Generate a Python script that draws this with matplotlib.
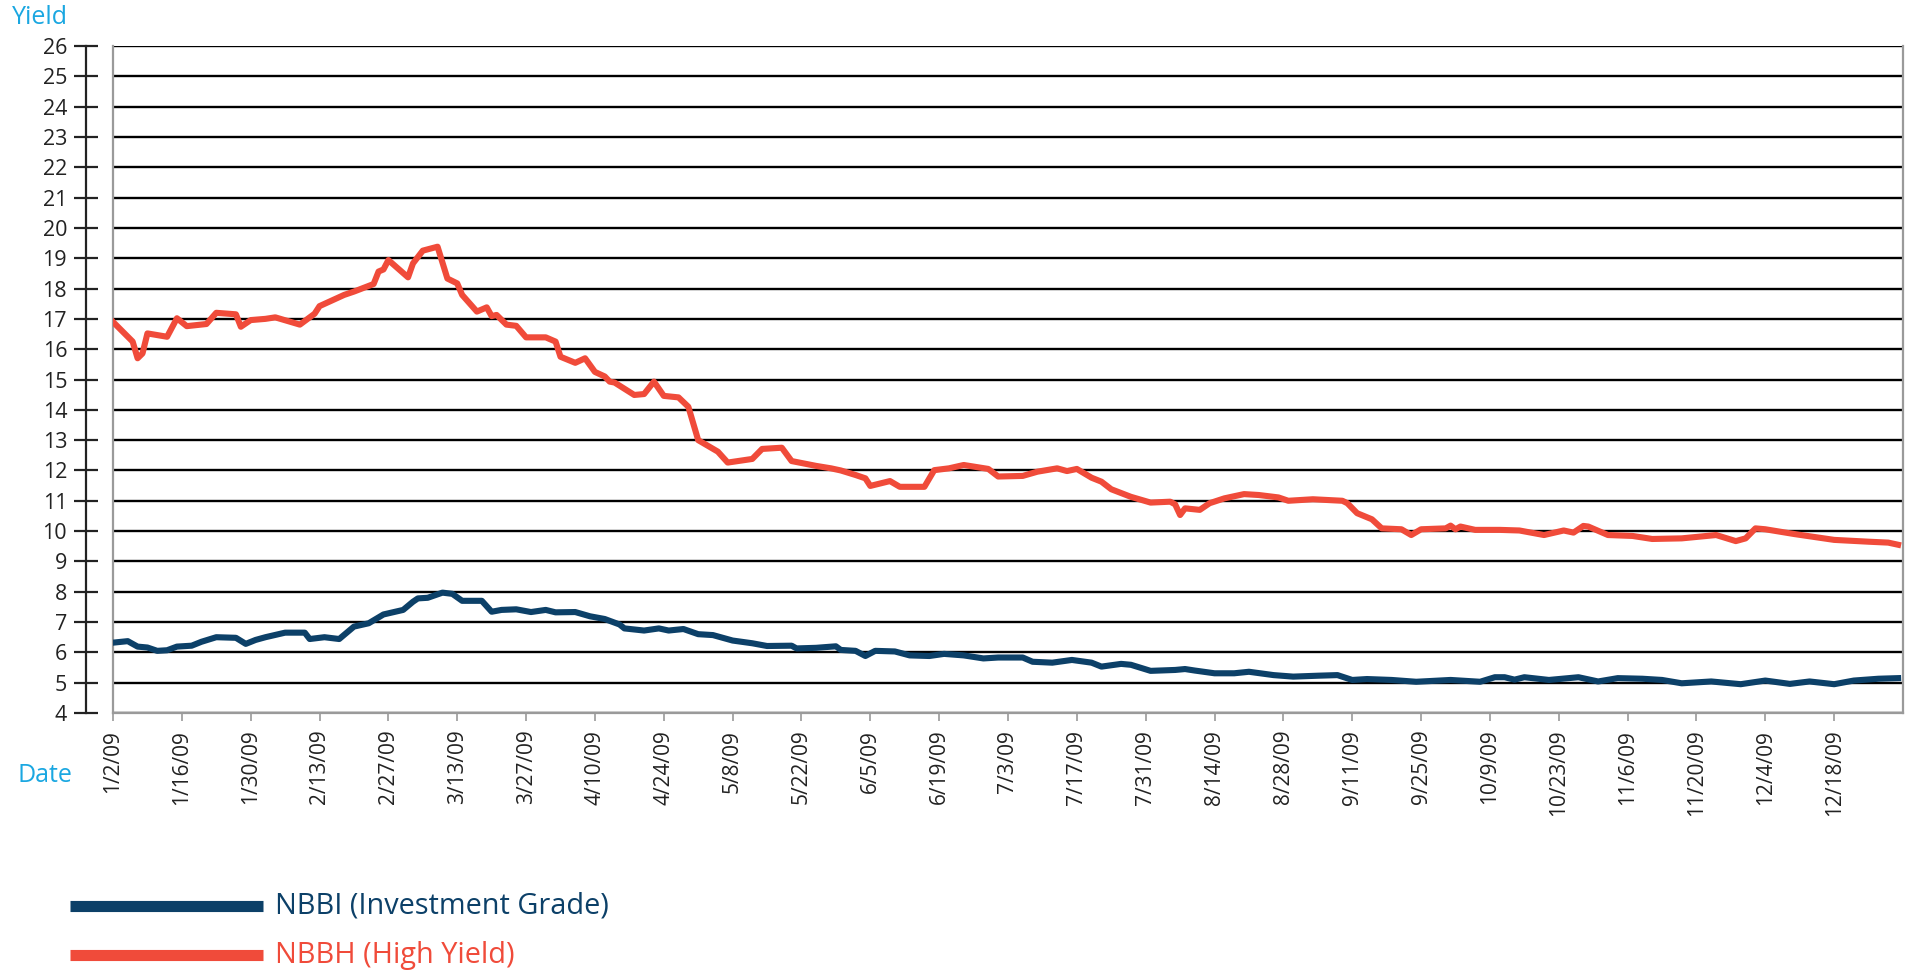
import pandas as pd
import matplotlib
matplotlib.use("Agg")
import matplotlib.pyplot as plt
import matplotlib.dates as mdates
from matplotlib.lines import Line2D
from matplotlib.ticker import FuncFormatter

plt.rcParams['font.family'] = ['Open Sans', 'DejaVu Sans']

# NBBH (High Yield)
high_yield_dates = [
    "01-02", "01-06", "01-07", "01-08", "01-09", "01-13", "01-15", "01-17", "01-21", "01-23",
    "01-27", "01-28", "01-30", "02-02", "02-04", "02-09", "02-12", "02-13", "02-18", "02-20",
    "02-24", "02-25", "02-26", "02-27", "03-03", "03-04", "03-06", "03-09", "03-11", "03-13",
    "03-14", "03-17", "03-19", "03-20", "03-21", "03-23", "03-25", "03-27", "03-31", "04-02",
    "04-03", "04-06", "04-08", "04-10", "04-12", "04-13", "04-14", "04-18", "04-20", "04-22",
    "04-24", "04-27", "04-29", "05-01", "05-05", "05-07", "05-12", "05-14", "05-18", "05-20",
    "05-25", "05-28", "05-30", "06-02", "06-04", "06-05", "06-09", "06-11", "06-16", "06-18",
    "06-21", "06-24", "06-29", "07-01", "07-06", "07-09", "07-13", "07-15", "07-17", "07-20",
    "07-22", "07-24", "07-28", "08-01", "08-05", "08-06", "08-07", "08-08", "08-11", "08-13",
    "08-16", "08-20", "08-23", "08-27", "08-29", "09-03", "09-09", "09-10", "09-12", "09-15",
    "09-17", "09-21", "09-23", "09-25", "09-30", "10-01", "10-02", "10-03", "10-06", "10-11",
    "10-15", "10-20", "10-24", "10-26", "10-28", "10-29", "11-02", "11-07", "11-11", "11-17",
    "11-24", "11-28", "11-30", "12-02", "12-04", "12-10", "12-18", "12-25", "12-29", "12-31",
]
high_yield_values = [
    16.90, 16.25, 15.70, 15.86, 16.52, 16.41, 17.02, 16.76, 16.83, 17.20,
    17.15, 16.74, 16.96, 17.00, 17.05, 16.81, 17.17, 17.42, 17.79, 17.90,
    18.15, 18.56, 18.63, 18.94, 18.37, 18.83, 19.25, 19.38, 18.33, 18.17,
    17.79, 17.24, 17.38, 17.09, 17.13, 16.81, 16.77, 16.39, 16.39, 16.25,
    15.75, 15.55, 15.70, 15.25, 15.10, 14.93, 14.90, 14.49, 14.52, 14.93,
    14.46, 14.41, 14.10, 13.00, 12.62, 12.26, 12.38, 12.71, 12.75, 12.31,
    12.15, 12.07, 12.00, 11.85, 11.74, 11.49, 11.65, 11.46, 11.46, 12.01,
    12.07, 12.18, 12.05, 11.80, 11.82, 11.96, 12.07, 11.98, 12.05, 11.76,
    11.63, 11.38, 11.13, 10.94, 10.97, 10.88, 10.53, 10.75, 10.70, 10.92,
    11.08, 11.22, 11.19, 11.11, 11.00, 11.05, 11.00, 10.92, 10.59, 10.39,
    10.09, 10.06, 9.87, 10.06, 10.09, 10.18, 10.06, 10.15, 10.04, 10.04,
    10.02, 9.87, 10.02, 9.95, 10.17, 10.15, 9.87, 9.84, 9.74, 9.76,
    9.87, 9.67, 9.76, 10.09, 10.06, 9.90, 9.71, 9.65, 9.62, 9.55,
]

# NBBI (Investment Grade)
inv_grade_dates = [
    "01-02", "01-05", "01-07", "01-09", "01-11", "01-13", "01-15", "01-18", "01-20", "01-23",
    "01-27", "01-29", "01-31", "02-02", "02-06", "02-10", "02-11", "02-14", "02-17", "02-20",
    "02-23", "02-26", "03-02", "03-04", "03-05", "03-07", "03-10", "03-12", "03-14", "03-18",
    "03-20", "03-22", "03-25", "03-28", "03-31", "04-02", "04-06", "04-09", "04-12", "04-15",
    "04-16", "04-20", "04-23", "04-25", "04-28", "05-01", "05-04", "05-08", "05-12", "05-15",
    "05-20", "05-21", "05-25", "05-29", "05-30", "06-02", "06-04", "06-06", "06-10", "06-13",
    "06-17", "06-20", "06-24", "06-28", "07-01", "07-06", "07-08", "07-12", "07-16", "07-20",
    "07-22", "07-26", "07-28", "08-01", "08-06", "08-08", "08-10", "08-14", "08-18", "08-21",
    "08-26", "08-30", "09-04", "09-08", "09-11", "09-14", "09-19", "09-24", "10-01", "10-07",
    "10-10", "10-12", "10-14", "10-16", "10-21", "10-27", "10-31", "11-04", "11-09", "11-13",
    "11-17", "11-23", "11-29", "12-04", "12-09", "12-13", "12-18", "12-22", "12-27", "12-31",
]
inv_grade_values = [
    6.32, 6.37, 6.19, 6.16, 6.05, 6.07, 6.19, 6.22, 6.35, 6.50,
    6.48, 6.28, 6.41, 6.50, 6.65, 6.65, 6.44, 6.50, 6.44, 6.85,
    6.96, 7.25, 7.40, 7.67, 7.78, 7.80, 7.97, 7.93, 7.70, 7.70,
    7.34, 7.40, 7.42, 7.33, 7.40, 7.32, 7.33, 7.19, 7.10, 6.92,
    6.79, 6.72, 6.79, 6.72, 6.77, 6.60, 6.57, 6.39, 6.30, 6.21,
    6.22, 6.13, 6.15, 6.20, 6.08, 6.05, 5.88, 6.05, 6.03, 5.90,
    5.88, 5.95, 5.90, 5.80, 5.83, 5.83, 5.69, 5.66, 5.75, 5.66,
    5.53, 5.62, 5.59, 5.39, 5.42, 5.45, 5.40, 5.31, 5.31, 5.36,
    5.25, 5.20, 5.23, 5.25, 5.09, 5.12, 5.09, 5.03, 5.09, 5.03,
    5.18, 5.18, 5.10, 5.18, 5.09, 5.18, 5.04, 5.15, 5.13, 5.09,
    4.98, 5.04, 4.95, 5.07, 4.96, 5.04, 4.95, 5.07, 5.13, 5.15,
]

y_ticks = list(range(4, 27))
x_ticks = pd.date_range("2009-01-02", "2009-12-18", freq="14D")

BLUE = "#0C4068"
RED = "#F04B3A"
LIGHT_BLUE = "#1AA7E1"
GRAY = "#9a9a9a"
INK = "#222222"


def to_dates(days):
    return pd.to_datetime(["2009-" + d for d in days])


def date_label(value, pos):
    d = mdates.num2date(value)
    return f"{d.month}/{d.day}/{d:%y}"


W, H = 1909, 974
fig = plt.figure(figsize=(W / 100, H / 100), dpi=100)
ax = fig.add_axes([113 / W, 1 - 713 / H, 1790 / W, 667 / H])

ax.plot(to_dates(inv_grade_dates), inv_grade_values, color=BLUE, lw=4.4, zorder=4)
ax.plot(to_dates(high_yield_dates), high_yield_values, color=RED, lw=4.4, zorder=4)

ax.set_xlim(pd.Timestamp("2009-01-02"), pd.Timestamp("2010-01-01"))
ax.set_ylim(4, 26)
ax.set_yticks(y_ticks)
ax.set_xticks(x_ticks)
ax.xaxis.set_major_formatter(FuncFormatter(date_label))

ax.set_axisbelow(True)
ax.yaxis.grid(True, color="black", lw=1.7)

ax.spines["top"].set_visible(False)
for side in ("right", "bottom"):
    ax.spines[side].set_color(GRAY)
    ax.spines[side].set_linewidth(1.6)
    ax.spines[side].set_zorder(3)
ax.spines["left"].set_position(("outward", 19.5))
ax.spines["left"].set_color(INK)
ax.spines["left"].set_linewidth(1.6)
# gray frame edge where the plot starts
ax.add_line(Line2D([0, 0], [0, 1], transform=ax.transAxes, color=GRAY, lw=1.6,
                   zorder=3, clip_on=False))

ax.tick_params(axis="y", direction="inout", length=17, width=1.6, color=INK,
               labelsize=15.5, labelcolor=INK, pad=5)
ax.tick_params(axis="x", direction="out", length=6, width=1.2, color=GRAY,
               labelsize=15, labelcolor=INK, pad=6, labelrotation=90)

fig.text(12 / W, 1 - 17 / H, "Yield", color=LIGHT_BLUE, fontsize=18, va="center", ha="left")
fig.text(18 / W, 1 - 776 / H, "Date", color=LIGHT_BLUE, fontsize=18, va="center", ha="left")

# legend
for label, color, ypx in [("NBBI (Investment Grade)", BLUE, 906), ("NBBH (High Yield)", RED, 955)]:
    fy = 1 - ypx / H
    fig.add_artist(Line2D([70 / W, 263 / W], [fy, fy], transform=fig.transFigure,
                          color=color, lw=8, solid_capstyle="butt"))
    fig.text(275 / W, fy, label, color=color, fontsize=20.8, va="center", ha="left")

fig.savefig("out.png", dpi=100)
